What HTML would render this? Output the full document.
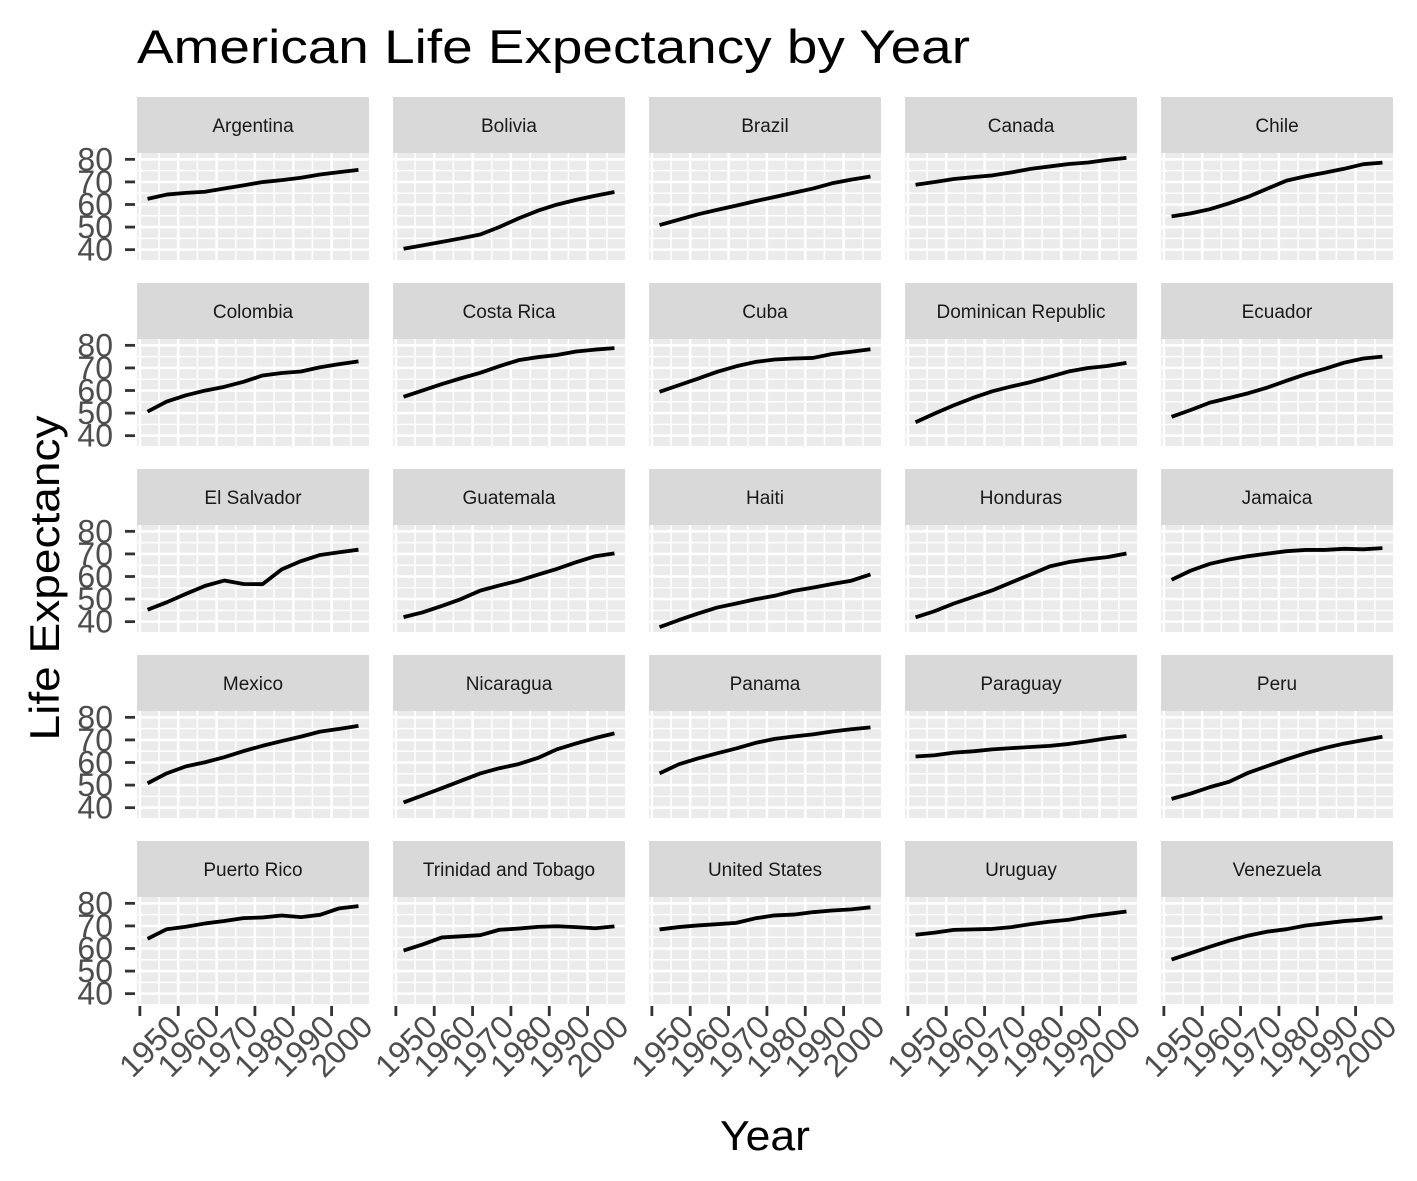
<!DOCTYPE html>
<html><head><meta charset="utf-8"><style>
html,body{margin:0;padding:0;background:#fff;}
svg{display:block;font-family:"Liberation Sans",Arial,sans-serif;}
</style></head><body>
<svg id="chart" width="1417" height="1181" viewBox="0 0 1417 1181" xmlns="http://www.w3.org/2000/svg">
<text x="137" y="63" font-size="47" fill="#000" textLength="833" lengthAdjust="spacingAndGlyphs">American Life Expectancy by Year</text>
<text transform="translate(59,578) rotate(-90)" text-anchor="middle" font-size="42" fill="#000" textLength="325" lengthAdjust="spacingAndGlyphs">Life Expectancy</text>
<text x="765" y="1150" text-anchor="middle" font-size="42" fill="#000" textLength="90" lengthAdjust="spacingAndGlyphs">Year</text>
<g id="panels"></g>
</svg>
<script>
const years = [1952,1957,1962,1967,1972,1977,1982,1987,1992,1997,2002,2007];
const countries = ["Argentina","Bolivia","Brazil","Canada","Chile","Colombia","Costa Rica","Cuba","Dominican Republic","Ecuador","El Salvador","Guatemala","Haiti","Honduras","Jamaica","Mexico","Nicaragua","Panama","Paraguay","Peru","Puerto Rico","Trinidad and Tobago","United States","Uruguay","Venezuela"];
const lifeArgentina = [62.485,64.399,65.142,65.634,67.065,68.481,69.942,70.774,71.868,73.275,74.34,75.32];
const lifeBolivia = [40.414,41.89,43.428,45.032,46.714,50.023,53.859,57.251,59.957,62.05,63.883,65.554];
const lifeBrazil = [50.917,53.285,55.665,57.632,59.504,61.489,63.336,65.205,67.057,69.388,71.006,72.39];
const lifeCanada = [68.75,69.96,71.3,72.13,72.88,74.21,75.76,76.86,77.95,78.61,79.77,80.653];
const lifeChile = [54.745,56.074,57.924,60.523,63.441,67.052,70.565,72.492,74.126,75.816,77.86,78.553];
const lifeColombia = [50.643,55.118,57.863,59.963,61.623,63.837,66.653,67.768,68.421,70.313,71.682,72.889];
const lifeCostaRica = [57.206,60.026,62.842,65.424,67.849,70.75,73.45,74.752,75.713,77.26,78.123,78.782];
const lifeCuba = [59.421,62.325,65.246,68.29,70.723,72.649,73.717,74.174,74.414,76.151,77.158,78.273];
const lifeDominican = [45.928,49.828,53.459,56.751,59.631,61.788,63.727,66.046,68.457,69.957,70.847,72.235];
const lifeEcuador = [48.357,51.356,54.64,56.678,58.796,61.31,64.342,67.231,69.613,72.312,74.173,74.994];
const lifeElSalvador = [45.262,48.57,52.307,55.855,58.207,56.696,56.604,63.154,66.798,69.535,70.734,71.878];
const lifeGuatemala = [42.023,44.142,46.954,50.016,53.738,56.029,58.137,60.782,63.373,66.322,68.978,70.259];
const lifeHaiti = [37.579,40.696,43.59,46.243,48.042,49.923,51.461,53.636,55.089,56.671,58.137,60.916];
const lifeHonduras = [41.912,44.665,48.041,50.924,53.884,57.402,60.909,64.492,66.399,67.659,68.565,70.198];
const lifeJamaica = [58.53,62.61,65.61,67.51,69.0,70.11,71.21,71.77,71.766,72.262,72.047,72.567];
const lifeMexico = [50.789,55.19,58.299,60.11,62.361,65.032,67.405,69.498,71.455,73.67,74.902,76.195];
const lifeNicaragua = [42.314,45.432,48.632,51.884,55.151,57.47,59.298,62.008,65.843,68.426,70.836,72.899];
const lifePanama = [55.191,59.201,61.817,64.071,66.216,68.681,70.472,71.523,72.462,73.738,74.712,75.537];
const lifeParaguay = [62.649,63.196,64.361,64.951,65.815,66.353,66.874,67.378,68.225,69.4,70.755,71.752];
const lifePeru = [43.902,46.263,49.096,51.445,55.448,58.447,61.406,64.134,66.458,68.386,69.906,71.421];
const lifePuertoRico = [64.28,68.54,69.62,71.1,72.16,73.44,73.75,74.63,73.911,74.917,77.778,78.746];
const lifeTrinidad = [59.1,61.8,64.9,65.4,65.9,68.3,68.832,69.582,69.862,69.465,68.976,69.819];
const lifeUS = [68.44,69.49,70.21,70.76,71.34,73.38,74.65,75.02,76.09,76.81,77.31,78.242];
const lifeUruguay = [66.071,67.044,68.253,68.468,68.673,69.481,70.805,71.918,72.752,74.223,75.307,76.384];
const lifeVenezuela = [55.088,57.907,60.77,63.479,65.712,67.456,68.557,70.19,71.15,72.146,72.766,73.747];
const series = [lifeArgentina,lifeBolivia,lifeBrazil,lifeCanada,lifeChile,lifeColombia,lifeCostaRica,lifeCuba,lifeDominican,lifeEcuador,lifeElSalvador,lifeGuatemala,lifeHaiti,lifeHonduras,lifeJamaica,lifeMexico,lifeNicaragua,lifePanama,lifeParaguay,lifePeru,lifePuertoRico,lifeTrinidad,lifeUS,lifeUruguay,lifeVenezuela];
const yTicks = [40,50,60,70,80];
const xTicks = [1950,1960,1970,1980,1990,2000];

const NS="http://www.w3.org/2000/svg";
const root=document.getElementById('panels');
function mk(tag,attrs,parent){const e=document.createElementNS(NS,tag);for(const k in attrs)e.setAttribute(k,attrs[k]);parent.appendChild(e);return e;}
let allY=[].concat(...series);
const yMin0=Math.min(...allY), yMax0=Math.max(...allY), yPad=(yMax0-yMin0)*0.05;
const yLo=yMin0-yPad, yHi=yMax0+yPad;
const xPad=(years[years.length-1]-years[0])*0.05;
const xLo=years[0]-xPad, xHi=years[years.length-1]+xPad;
const PW=232, PH=107, colX0=137, colStep=256, rowY0=97, rowStep=186, stripH=56;

countries.forEach((name,i)=>{
  const c=i%5, r=Math.floor(i/5);
  const px=colX0+c*colStep, sy=rowY0+r*rowStep, py=sy+stripH;
  const sx=v=>px+(v-xLo)/(xHi-xLo)*PW;
  const syf=v=>py+PH-(v-yLo)/(yHi-yLo)*PH;
  const g=mk('g',{},root);
  
  
  const strip=mk('rect',{x:px,y:sy,width:PW,height:stripH,fill:'#D9D9D9'},g);
  
  
  const st=mk('text',{x:px+PW/2,y:sy+35,'text-anchor':'middle','font-size':'19','fill':'#1A1A1A'},g);
  
  
  st.textContent=name;
  const bg=mk('rect',{x:px,y:py,width:PW,height:PH,fill:'#EBEBEB'},g);
  
  
  for(let k=0;k<yTicks.length-1;k++){const v=(yTicks[k]+yTicks[k+1])/2;mk('line',{x1:px,x2:px+PW,y1:syf(v),y2:syf(v),stroke:'#fff','stroke-width':1.5},g);}
  for(let k=0;k<xTicks.length-1;k++){const v=(xTicks[k]+xTicks[k+1])/2;mk('line',{x1:sx(v),x2:sx(v),y1:py,y2:py+PH,stroke:'#fff','stroke-width':1.5},g);}
  mk('line',{x1:sx(2005),x2:sx(2005),y1:py,y2:py+PH,stroke:'#fff','stroke-width':1.5},g);
  yTicks.forEach(v=>mk('line',{x1:px,x2:px+PW,y1:syf(v),y2:syf(v),stroke:'#fff','stroke-width':2.5},g));
  xTicks.forEach(v=>mk('line',{x1:sx(v),x2:sx(v),y1:py,y2:py+PH,stroke:'#fff','stroke-width':2.5},g));
  const vals=series[i];
  const pts=vals.map((v,k)=>sx(years[k]).toFixed(2)+','+syf(v).toFixed(2)).join(' ');
  const ln=mk('polyline',{points:pts,fill:'none',stroke:'#000','stroke-width':3.8,'stroke-linejoin':'round'},g);
  
  
  if(c===0){
    yTicks.forEach(v=>{
      mk('line',{x1:px-12,x2:px-2,y1:syf(v),y2:syf(v),stroke:'#333','stroke-width':2.8},g);
      const t=mk('text',{x:px-24,y:syf(v)+11,'text-anchor':'end','font-size':'32','fill':'#4D4D4D'},g);
      
      
      t.textContent=v;
    });
  }
  if(r===4){
    xTicks.forEach(v=>{
      const x=sx(v);
      mk('line',{x1:x,x2:x,y1:py+PH+2,y2:py+PH+12,stroke:'#333','stroke-width':2.8},g);
      const t=mk('text',{transform:'translate('+(x+10)+','+(py+PH+42)+') rotate(-45)','text-anchor':'middle','font-size':'32','fill':'#4D4D4D'},g);
      
      
      t.setAttribute('dy','11');
      t.textContent=v;
    });
  }
});
</script>
</body></html>
